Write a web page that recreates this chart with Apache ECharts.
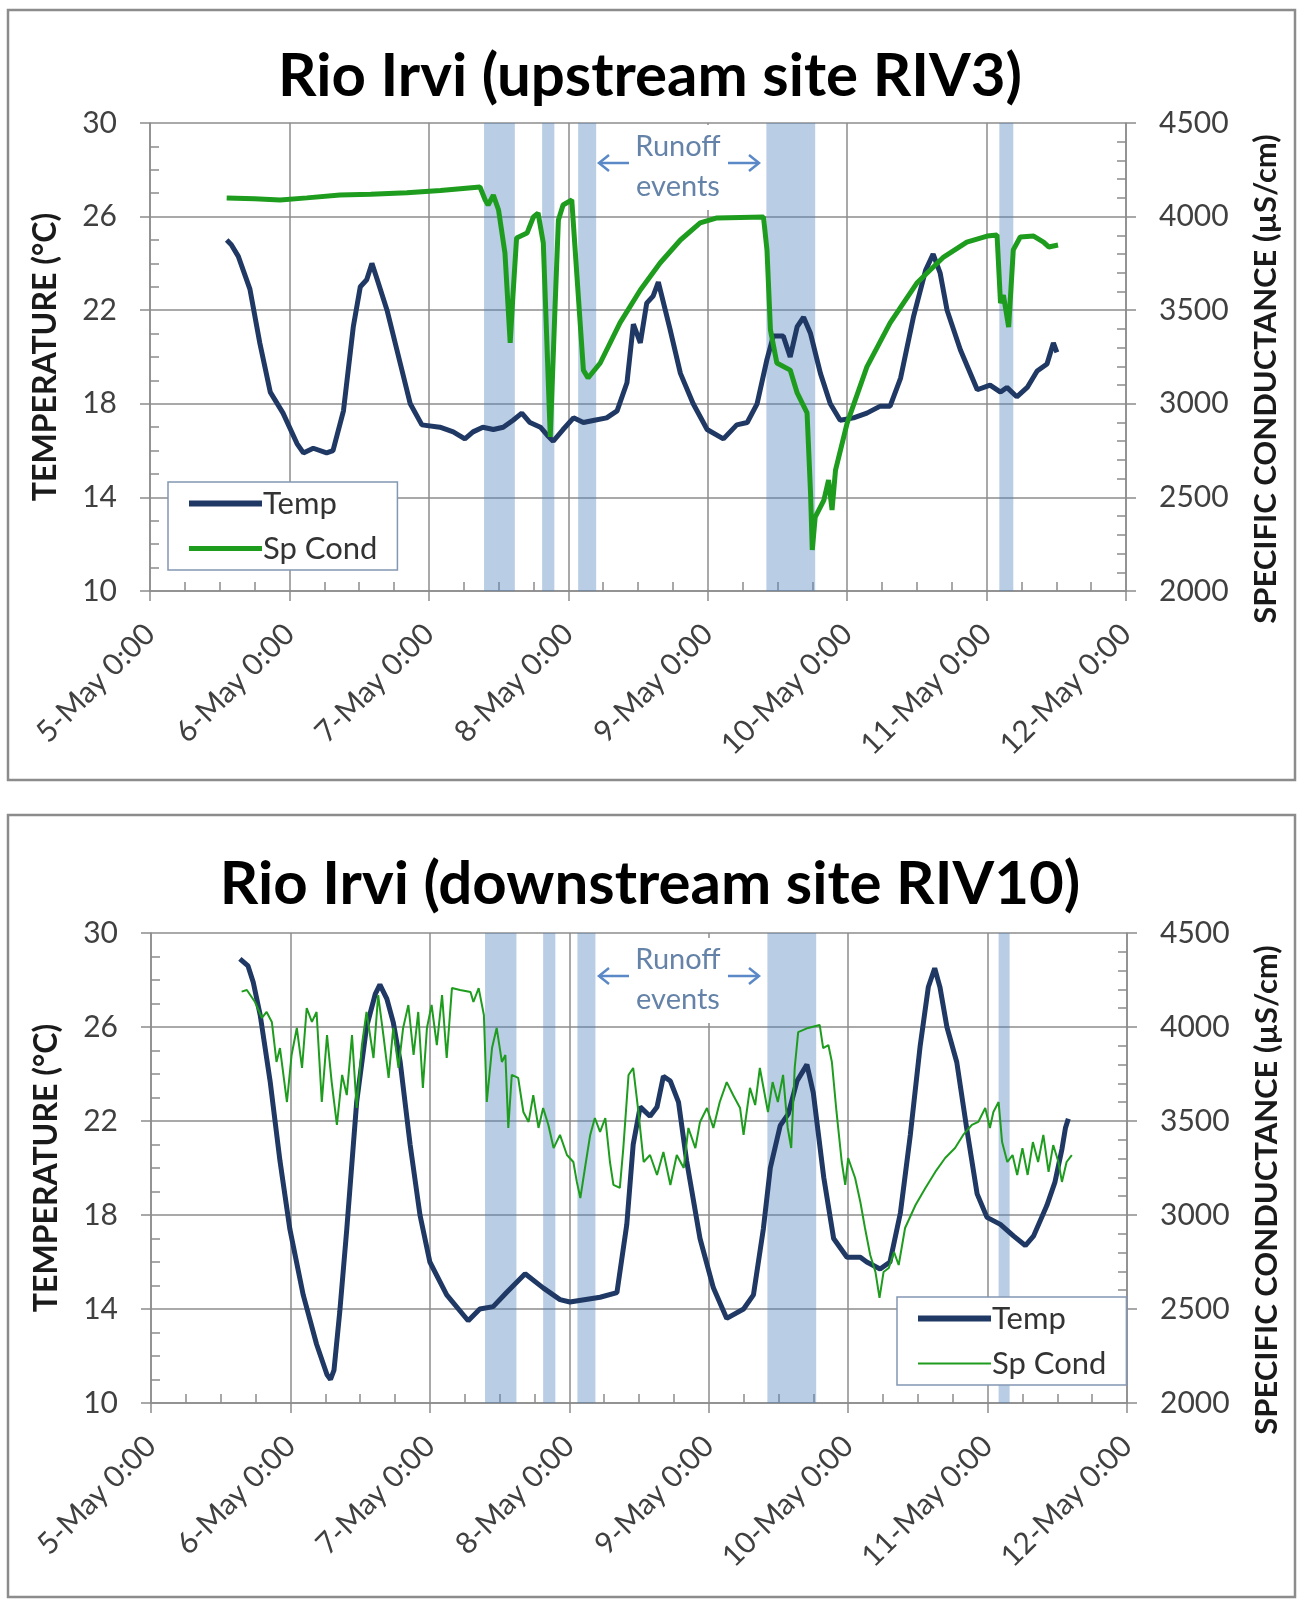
<!DOCTYPE html>
<html>
<head>
<meta charset="utf-8">
<script src="https://cdn.jsdelivr.net/npm/echarts@6/dist/echarts.min.js"></script>
<style>
  html, body { margin: 0; background: #fff; }
  #main { width: 1300px; height: 1613px; }
</style>
</head>
<body>
<div id="main"></div>
<script>
// hours since 5-May 0:00
var dayLabels = ['5-May 0:00', '6-May 0:00', '7-May 0:00', '8-May 0:00', '9-May 0:00', '10-May 0:00', '11-May 0:00', '12-May 0:00'];

// upstream site RIV3
var upTemp = [[13.2,25.0],[14.0,24.8],[15.2,24.3],[17.2,22.9],[18.9,20.6],[20.7,18.5],[22.9,17.6],[25.3,16.3],[26.4,15.9],[28.1,16.1],[30.4,15.9],[31.5,16.0],[33.3,17.7],[35.0,21.3],[36.2,23.0],[37.3,23.3],[38.2,24.0],[39.0,23.4],[40.8,22.0],[43.1,19.7],[44.8,18.0],[46.8,17.1],[49.9,17.0],[52.2,16.8],[54.2,16.5],[55.6,16.8],[57.3,17.0],[59.1,16.9],[60.8,17.0],[62.5,17.3],[64.0,17.6],[65.4,17.2],[67.2,17.0],[68.6,16.6],[69.4,16.4],[71.1,16.9],[72.9,17.4],[74.6,17.2],[76.5,17.3],[78.6,17.4],[80.4,17.7],[82.1,18.9],[83.2,21.4],[84.4,20.6],[85.5,22.3],[86.6,22.6],[87.5,23.2],[88.7,22.0],[89.5,21.2],[91.3,19.3],[93.5,18.0],[95.9,16.9],[98.7,16.5],[101.0,17.1],[102.8,17.2],[104.5,18.0],[106.2,19.9],[107.3,20.9],[109.0,20.9],[110.2,20.0],[111.4,21.3],[112.5,21.7],[113.7,21.0],[115.4,19.3],[117.1,18.0],[118.8,17.3],[121.1,17.4],[123.4,17.6],[125.7,17.9],[127.4,17.9],[129.2,19.1],[131.4,21.7],[133.5,23.7],[134.8,24.4],[136.0,23.6],[137.2,22.0],[139.5,20.3],[142.4,18.6],[144.6,18.8],[146.4,18.5],[147.5,18.7],[149.2,18.3],[151.0,18.7],[152.7,19.4],[154.4,19.7],[155.5,20.6],[156.1,20.2]];
var upCond = [[13.2,4100],[18.0,4095],[22.4,4089],[27.0,4100],[32.7,4115],[38.0,4120],[44.2,4128],[50.0,4140],[56.8,4158],[57.7,4089],[58.2,4062],[59.1,4115],[60.0,4035],[61.1,3805],[62.0,3325],[62.5,3592],[63.1,3886],[64.9,3912],[66.0,3998],[66.8,4019],[67.7,3859],[68.9,2823],[69.7,3501],[70.3,3982],[71.1,4062],[72.6,4089],[73.5,3678],[74.6,3180],[75.4,3138],[77.5,3218],[80.9,3432],[84.4,3608],[87.8,3752],[91.3,3875],[94.7,3966],[97.6,3993],[105.6,3998],[106.2,3822],[106.8,3394],[107.9,3218],[110.2,3180],[111.4,3058],[113.1,2951],[113.7,2523],[114.0,2219],[114.5,2395],[116.0,2486],[116.8,2593],[117.4,2433],[118.0,2646],[120.0,2897],[123.4,3197],[127.4,3432],[132.0,3645],[136.6,3784],[140.6,3864],[144.1,3896],[145.8,3902],[146.4,3538],[146.9,3581],[147.8,3410],[148.6,3822],[149.8,3891],[152.1,3896],[153.8,3864],[154.7,3838],[156.3,3848]];
var upBands = [[57.5,62.8],[67.5,69.6],[73.7,76.8],[106.1,114.5],[146.2,148.6]];

// downstream site RIV10
var dnTemp = [[15.3,28.9],[16.7,28.6],[17.6,27.9],[18.8,26.5],[20.5,23.7],[22.2,20.3],[23.9,17.4],[26.2,14.6],[28.5,12.5],[30.3,11.2],[30.9,11.0],[31.5,11.4],[32.5,13.9],[33.7,17.4],[35.4,22.8],[37.1,26.0],[38.6,27.4],[39.4,27.8],[40.6,27.2],[41.7,26.2],[42.9,24.5],[44.6,21.0],[46.3,18.0],[48.0,16.0],[50.9,14.6],[54.6,13.5],[56.6,14.0],[58.9,14.1],[61.2,14.7],[64.4,15.5],[67.5,14.9],[70.4,14.4],[72.1,14.3],[77.3,14.5],[80.2,14.7],[81.9,17.6],[83.0,21.0],[84.2,22.6],[85.9,22.2],[87.1,22.6],[88.2,23.9],[89.4,23.7],[90.8,22.8],[92.2,20.3],[94.5,17.0],[96.8,14.9],[99.1,13.6],[102.0,14.0],[103.7,14.6],[105.4,17.4],[106.6,20.0],[108.3,21.8],[109.7,22.3],[111.2,23.7],[112.9,24.4],[114.0,23.2],[115.8,19.6],[117.5,17.0],[119.8,16.2],[122.1,16.2],[123.2,16.0],[125.5,15.7],[127.2,16.0],[129.0,18.1],[130.7,21.4],[132.4,25.2],[133.8,27.7],[134.9,28.5],[135.8,27.7],[137.0,26.0],[138.7,24.5],[140.4,21.7],[142.2,18.9],[143.9,17.9],[146.2,17.6],[148.5,17.1],[150.5,16.7],[151.9,17.1],[154.2,18.4],[155.6,19.4],[156.8,20.8],[157.4,21.7],[157.9,22.1]];
var dnCond = [[15.6,4188],[16.5,4197],[17.9,4133],[19.1,4048],[19.9,4080],[20.8,4027],[21.6,3814],[22.2,3888],[23.4,3601],[24.2,3851],[25.1,3995],[26.0,3782],[26.8,4101],[27.7,4027],[28.5,4080],[29.4,3601],[30.3,3957],[31.1,3707],[32.0,3479],[32.9,3745],[33.7,3638],[34.6,3957],[35.4,3569],[36.3,3904],[37.1,4080],[38.3,3835],[39.1,4170],[40.0,3957],[40.9,3729],[41.7,3995],[42.6,3782],[43.4,3995],[44.3,4117],[45.2,3851],[46.0,4080],[46.8,3676],[47.5,3995],[48.3,4117],[49.2,3904],[50.1,4170],[50.9,3835],[51.8,4207],[53.2,4197],[55.0,4186],[55.5,4133],[56.4,4207],[57.3,4064],[57.8,3601],[58.7,3888],[59.5,3995],[60.4,3814],[61.0,3851],[61.5,3463],[62.1,3745],[63.2,3729],[64.1,3548],[65.0,3495],[65.8,3638],[66.7,3463],[67.5,3569],[68.4,3479],[69.3,3356],[70.4,3426],[71.6,3319],[72.7,3282],[73.3,3176],[73.9,3090],[74.7,3250],[75.6,3426],[76.4,3516],[77.3,3442],[78.2,3516],[79.0,3282],[79.6,3160],[80.7,3144],[81.3,3356],[82.2,3745],[83.0,3782],[83.9,3548],[84.8,3282],[85.9,3319],[87.1,3213],[88.2,3335],[89.4,3160],[90.5,3319],[91.7,3250],[92.5,3463],[93.7,3356],[94.5,3495],[95.7,3569],[96.8,3463],[97.9,3601],[99.1,3707],[100.2,3638],[101.4,3569],[102.0,3426],[103.1,3676],[104.0,3585],[104.8,3782],[106.2,3548],[107.0,3707],[107.9,3601],[108.8,3745],[109.6,3463],[110.2,3356],[110.8,3782],[111.4,3973],[113.1,3995],[115.1,4011],[115.7,3888],[116.6,3904],[117.2,3814],[118.0,3548],[118.9,3282],[119.5,3160],[120.0,3303],[121.2,3197],[122.1,3069],[122.9,2931],[123.8,2787],[124.7,2697],[125.4,2559],[126.1,2697],[127.0,2718],[127.9,2803],[128.7,2734],[129.8,2931],[131.6,3053],[133.3,3144],[135.0,3229],[136.7,3303],[138.4,3356],[139.8,3426],[141.3,3479],[142.4,3495],[143.6,3569],[144.4,3463],[145.0,3548],[145.9,3601],[146.5,3388],[147.4,3282],[148.3,3319],[149.1,3213],[150.0,3356],[150.9,3213],[151.8,3388],[152.7,3282],[153.6,3426],[154.5,3229],[155.3,3372],[156.2,3282],[156.8,3176],[157.6,3282],[158.5,3319]];
var dnBands = [[57.5,62.9],[67.5,69.6],[73.4,76.5],[106.1,114.5],[145.9,147.8]];

var FONT = 'Lato';
var gridColor = '#8c8c8c';
var textColor = '#404040';
var tempColor = '#1f3864';
var condColor = '#1e9c1e';

var myChart = echarts.init(document.getElementById('main'));

function xAxisFor(gi) {
  return {
    type: 'value', gridIndex: gi, min: 0, max: 168, interval: 24,
    axisLine: { show: true, onZero: false, lineStyle: { color: gridColor, width: 1.5 } },
    axisTick: { show: true, length: 10, lineStyle: { color: gridColor, width: 1.5 } },
    minorTick: { show: true, splitNumber: 4, length: -9, lineStyle: { color: gridColor, width: 1.5 } },
    splitLine: { show: true, lineStyle: { color: gridColor, width: 1.5 } },
    axisLabel: {
      rotate: 45, margin: 38, fontSize: 30, color: textColor, fontFamily: FONT,
      formatter: function (v) { return dayLabels[Math.round(v / 24)]; }
    }
  };
}
function tempAxisFor(gi) {
  return {
    type: 'value', gridIndex: gi, position: 'left', min: 10, max: 30, interval: 4,
    name: 'TEMPERATURE (°C)', nameLocation: 'middle', nameGap: 88,
    nameTextStyle: { fontSize: 32, fontWeight: 'bold', color: '#1a1a1a', fontFamily: FONT },
    axisLine: { show: true, lineStyle: { color: gridColor, width: 1.5 } },
    axisTick: { show: true, length: 10, lineStyle: { color: gridColor, width: 1.5 } },
    minorTick: { show: true, splitNumber: 4, length: -9, lineStyle: { color: gridColor, width: 1.5 } },
    splitLine: { show: true, lineStyle: { color: gridColor, width: 1.5 } },
    axisLabel: { margin: 33, fontSize: 30, color: textColor, fontFamily: FONT }
  };
}
function condAxisFor(gi) {
  return {
    type: 'value', gridIndex: gi, position: 'right', min: 2000, max: 4500, interval: 500,
    name: 'SPECIFIC CONDUCTANCE (µS/cm)', nameLocation: 'middle', nameGap: 124,
    nameTextStyle: { fontSize: 31, fontWeight: 'bold', color: '#1a1a1a', fontFamily: FONT, padding: [0, 44, 0, 0] },
    axisLine: { show: true, lineStyle: { color: gridColor, width: 1.5 } },
    axisTick: { show: true, length: 10, lineStyle: { color: gridColor, width: 1.5 } },
    minorTick: { show: true, splitNumber: 5, length: -9, lineStyle: { color: gridColor, width: 1.5 } },
    splitLine: { show: false },
    axisLabel: { margin: 33, fontSize: 30, color: textColor, fontFamily: FONT,
      formatter: function (v) { return String(v); } }
  };
}
function bandSeries(xi, yi, bands) {
  return {
    type: 'line', xAxisIndex: xi, yAxisIndex: yi, data: [], silent: true, z: 5,
    markArea: {
      silent: true,
      itemStyle: { color: 'rgba(79,129,189,0.4)' },
      data: bands.map(function (b) { return [{ xAxis: b[0] }, { xAxis: b[1] }]; })
    }
  };
}
function legendFor(left, top, condWidth) {
  return {
    left: left, top: top, orient: 'vertical',
    itemWidth: 73, itemHeight: 30, itemGap: 14,
    padding: [6, 20, 6, 18],
    backgroundColor: '#fff', borderColor: '#8496b4', borderWidth: 1.5,
    textStyle: { fontSize: 31, color: '#333', fontFamily: FONT, padding: [0, 0, 0, -4] },
    data: [
      { name: 'Temp', itemStyle: { opacity: 0 }, lineStyle: { width: 6, color: tempColor } },
      { name: 'Sp Cond', itemStyle: { opacity: 0 }, lineStyle: { width: condWidth, color: condColor } }
    ]
  };
}
function runoffNote(y0) {
  var c = '#5b88c6';
  return [
    { type: 'rect', z: 1, shape: { x: 617, y: y0 - 20, width: 123, height: 85 }, style: { fill: '#fff' } },
    { type: 'text', z: 3, style: { text: 'Runoff', x: 678, y: y0 + 2, fill: '#6583a8', font: '29px Lato', textAlign: 'center', textVerticalAlign: 'middle' } },
    { type: 'text', z: 3, style: { text: 'events', x: 678, y: y0 + 42, fill: '#6583a8', font: '29px Lato', textAlign: 'center', textVerticalAlign: 'middle' } },
    { type: 'polyline', z: 3, shape: { points: [[629, y0 + 18], [599, y0 + 18]] }, style: { stroke: c, lineWidth: 2.5, fill: null } },
    { type: 'polyline', z: 3, shape: { points: [[609, y0 + 10], [599, y0 + 18], [609, y0 + 26]] }, style: { stroke: c, lineWidth: 2.5, fill: null } },
    { type: 'polyline', z: 3, shape: { points: [[728, y0 + 18], [759, y0 + 18]] }, style: { stroke: c, lineWidth: 2.5, fill: null } },
    { type: 'polyline', z: 3, shape: { points: [[749, y0 + 10], [759, y0 + 18], [749, y0 + 26]] }, style: { stroke: c, lineWidth: 2.5, fill: null } }
  ];
}

var option = {
  animation: false,
  backgroundColor: '#fff',
  title: [
    { text: 'Rio Irvi (upstream site RIV3)', left: 'center', top: 42,
      textStyle: { fontSize: 60, fontWeight: 'bold', color: '#000', fontFamily: FONT } },
    { text: 'Rio Irvi (downstream site RIV10)', left: 'center', top: 850,
      textStyle: { fontSize: 60, fontWeight: 'bold', color: '#000', fontFamily: FONT } }
  ],
  grid: [
    { left: 150, top: 123, width: 976, height: 468 },
    { left: 151, top: 933, width: 976, height: 470 }
  ],
  legend: [legendFor(168, 482, 5), legendFor(897, 1297, 2)],
  xAxis: [xAxisFor(0), xAxisFor(1)],
  yAxis: [tempAxisFor(0), condAxisFor(0), tempAxisFor(1), condAxisFor(1)],
  graphic: [
    { type: 'rect', z: 0, shape: { x: 8, y: 10, width: 1287, height: 770 }, style: { fill: null, stroke: '#8c8c8c', lineWidth: 2.5 } },
    { type: 'rect', z: 0, shape: { x: 8, y: 815, width: 1287, height: 782 }, style: { fill: null, stroke: '#8c8c8c', lineWidth: 2.5 } }
  ].concat(runoffNote(145)).concat(runoffNote(958)),
  series: [
    { name: 'Temp', type: 'line', xAxisIndex: 0, yAxisIndex: 0, data: upTemp, showSymbol: false, symbol: 'none',
      lineStyle: { width: 5, color: tempColor }, itemStyle: { color: tempColor }, z: 2 },
    { name: 'Sp Cond', type: 'line', xAxisIndex: 0, yAxisIndex: 1, data: upCond, showSymbol: false, symbol: 'none',
      lineStyle: { width: 5, color: condColor }, itemStyle: { color: condColor }, z: 3 },
    { name: 'Temp', type: 'line', xAxisIndex: 1, yAxisIndex: 2, data: dnTemp, showSymbol: false, symbol: 'none',
      lineStyle: { width: 5, color: tempColor }, itemStyle: { color: tempColor }, z: 2 },
    { name: 'Sp Cond', type: 'line', xAxisIndex: 1, yAxisIndex: 3, data: dnCond, showSymbol: false, symbol: 'none',
      lineStyle: { width: 2, color: condColor }, itemStyle: { color: condColor }, z: 3 },
    bandSeries(0, 0, upBands),
    bandSeries(1, 2, dnBands)
  ]
};

myChart.setOption(option);
</script>
</body>
</html>
